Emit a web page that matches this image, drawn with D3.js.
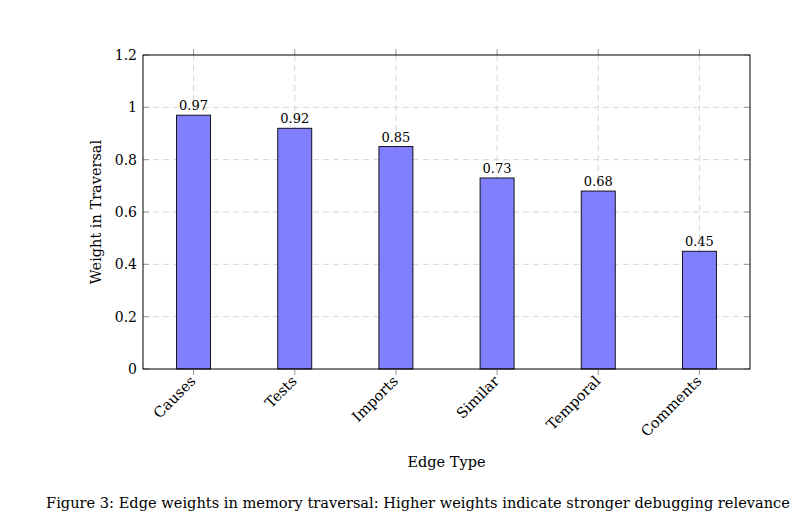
<!DOCTYPE html>
<html>
<head>
<meta charset="utf-8">
<script src="https://cdn.jsdelivr.net/npm/d3@7"></script>
<style>
  body { margin: 0; background: #fff; }
  text { font-family: "DejaVu Serif", "Liberation Serif", serif; fill: #000; }
</style>
</head>
<body>
<svg id="chart" width="806" height="525"></svg>
<script>
// Chart data
let categories = ['Causes', 'Tests', 'Imports', 'Similar', 'Temporal', 'Comments']
let weights = [0.97, 0.92, 0.85, 0.73, 0.68, 0.45]
let yTicks = [0, 0.2, 0.4, 0.6, 0.8, 1, 1.2]

let svg = d3.select('#chart')
let plotLeft = 143, plotRight = 750, plotTop = 55, plotBottom = 369

let x = d3.scaleBand().domain(categories).range([plotLeft, plotRight]).padding(0)
let y = d3.scaleLinear().domain([0, 1.2]).range([plotBottom, plotTop])
let barW = 34
let mid = d => x(d) + x.bandwidth() / 2

// Grid lines
svg.append('g').selectAll('line')
  .data(yTicks.slice(1, -1))
  .enter().append('line')
  .attr('x1', plotLeft).attr('x2', plotRight)
  .attr('y1', d => y(d)).attr('y2', d => y(d))
  .style('stroke', '#d6d6d6').style('stroke-dasharray', '6,4')

svg.append('g').selectAll('line')
  .data(categories)
  .enter().append('line')
  .attr('x1', mid).attr('x2', mid)
  .attr('y1', plotTop).attr('y2', plotBottom)
  .style('stroke', '#d6d6d6').style('stroke-dasharray', '6,4')

// Bars
svg.append('g').selectAll('rect')
  .data(categories)
  .enter().append('rect')
  .attr('x', d => mid(d) - barW / 2)
  .attr('y', (d, i) => y(weights[i]))
  .attr('width', barW)
  .attr('height', (d, i) => y(0) - y(weights[i]))
  .style('fill', '#8080ff')
  .style('stroke', '#000')
  .style('stroke-width', 0.9)

// Value labels
svg.append('g').selectAll('text')
  .data(categories)
  .enter().append('text')
  .attr('x', mid)
  .attr('y', (d, i) => y(weights[i]) - 5)
  .attr('text-anchor', 'middle')
  .style('font-size', '13px')
  .text((d, i) => weights[i].toFixed(2))

// Ticks outside on x (top and bottom)
categories.forEach(d => {
  svg.append('line').attr('x1', mid(d)).attr('x2', mid(d)).attr('y1', plotBottom).attr('y2', plotBottom + 6)
    .style('stroke', '#999')
  svg.append('line').attr('x1', mid(d)).attr('x2', mid(d)).attr('y1', plotTop - 6).attr('y2', plotTop)
    .style('stroke', '#999')
})

// Ticks inside on y (left and right)
yTicks.forEach(t => {
  svg.append('line').attr('x1', plotLeft).attr('x2', plotLeft + 6).attr('y1', y(t)).attr('y2', y(t))
    .style('stroke', '#999')
  svg.append('line').attr('x1', plotRight - 6).attr('x2', plotRight).attr('y1', y(t)).attr('y2', y(t))
    .style('stroke', '#999')
})

// Frame
svg.append('rect')
  .attr('x', plotLeft).attr('y', plotTop)
  .attr('width', plotRight - plotLeft).attr('height', plotBottom - plotTop)
  .style('fill', 'none').style('stroke', '#000').style('stroke-width', 1)

// Y tick labels
svg.append('g').selectAll('text')
  .data(yTicks)
  .enter().append('text')
  .attr('x', plotLeft - 6)
  .attr('y', d => y(d) + 5)
  .attr('text-anchor', 'end')
  .style('font-size', '14px')
  .text(d => d)

// X tick labels, rotated
svg.append('g').selectAll('text')
  .data(categories)
  .enter().append('text')
  .attr('transform', d => `translate(${mid(d) + 3},${plotBottom + 13}) rotate(-45)`)
  .attr('text-anchor', 'end')
  .style('font-size', '14.5px')
  .text(d => d)

// Axis titles
svg.append('text')
  .attr('x', (plotLeft + plotRight) / 2)
  .attr('y', 467)
  .attr('text-anchor', 'middle')
  .style('font-size', '14.5px')
  .text('Edge Type')

svg.append('text')
  .attr('transform', `translate(101,${(plotTop + plotBottom) / 2}) rotate(-90)`)
  .attr('text-anchor', 'middle')
  .style('font-size', '14.5px')
  .text('Weight in Traversal')

// Caption
svg.append('text')
  .attr('x', 418)
  .attr('y', 508)
  .attr('text-anchor', 'middle')
  .style('font-size', '14.6px')
  .text('Figure 3: Edge weights in memory traversal: Higher weights indicate stronger debugging relevance')
</script>
</body>
</html>
